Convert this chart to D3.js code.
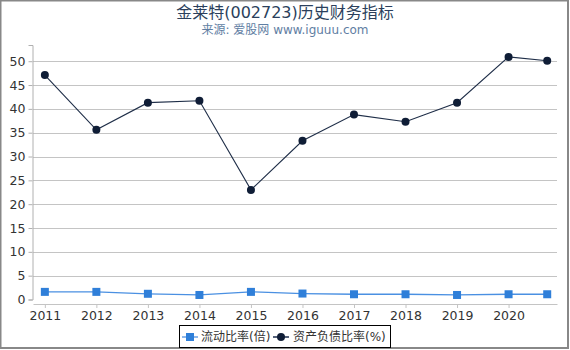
<!DOCTYPE html>
<html>
<head>
<meta charset="utf-8">
<script src="https://cdn.jsdelivr.net/npm/d3@7"></script>
<style>
  body { margin: 0; background: #fff; }
  svg text { font-family: "DejaVu Sans", "Noto Sans CJK SC", sans-serif; }
</style>
</head>
<body>
<div id="chart"></div>
<script>
// data
var years = [2011, 2012, 2013, 2014, 2015, 2016, 2017, 2018, 2019, 2020, 2020.75];
var tickYears = [2011, 2012, 2013, 2014, 2015, 2016, 2017, 2018, 2019, 2020];
var currentRatio = [1.6, 1.6, 1.2, 0.95, 1.6, 1.25, 1.1, 1.1, 0.95, 1.1, 1.1];
var debtRatio = [47.1, 35.6, 41.3, 41.7, 23.0, 33.3, 38.8, 37.3, 41.3, 50.9, 50.1];
var yTicks = [0, 5, 10, 15, 20, 25, 30, 35, 40, 45, 50];

const width = 570, height = 350;
const svg = d3.select('#chart').append('svg')
    .attr('width', width)
    .attr('height', height);

// outer frame
svg.append('rect')
    .attr('x', 0.5).attr('y', 0.5)
    .attr('width', 567.5).attr('height', 347.5)
    .attr('fill', 'none')
    .attr('stroke', '#888')
    .attr('stroke-width', 2);

// titles
svg.append('text')
    .attr('x', 285).attr('y', 18)
    .attr('text-anchor', 'middle')
    .attr('font-size', 16)
    .attr('fill', '#2b3f5c')
    .text('金莱特(002723)历史财务指标');
svg.append('text')
    .attr('x', 285).attr('y', 33.5)
    .attr('text-anchor', 'middle')
    .attr('font-size', 12)
    .attr('fill', '#5f7ea3')
    .text('来源: 爱股网 www.iguuu.com');

const x = d3.scaleLinear().domain([2010.77, 2020.94]).range([33, 557]);
const y = d3.scaleLinear().domain([0, 53.4]).range([299.5, 45]);

// gridlines
svg.append('g')
    .selectAll('line')
    .data(yTicks.filter(d => d > 0))
    .enter()
    .append('line')
    .attr('x1', 33).attr('x2', 557)
    .attr('y1', d => Math.round(y(d)) + 0.5)
    .attr('y2', d => Math.round(y(d)) + 0.5)
    .attr('stroke', '#c4c4c4');

// y axis
const yAxis = svg.append('g')
    .attr('transform', 'translate(32.5,0)')
    .call(d3.axisLeft(y).tickValues(yTicks).tickSize(4).tickPadding(3));
yAxis.select('.domain').attr('stroke', '#b0b0b0');
yAxis.selectAll('.tick line').attr('stroke', '#b0b0b0');
yAxis.selectAll('.tick text')
    .attr('font-size', 12.5)
    .attr('fill', '#333')
    .style('font-family', '"DejaVu Sans", sans-serif');

// x axis
const xAxis = svg.append('g')
    .attr('transform', 'translate(0,304)')
    .call(d3.axisBottom(x).tickValues(tickYears).tickFormat(d3.format('d')).tickSize(4).tickSizeOuter(0).tickPadding(3));
xAxis.select('.domain').attr('stroke', '#c4c4c4');
xAxis.selectAll('.tick line').attr('stroke', '#c4c4c4');
xAxis.selectAll('.tick text')
    .attr('font-size', 12.5)
    .attr('fill', '#333')
    .style('font-family', '"DejaVu Sans", sans-serif');

// series
const debtColor = '#1f2e48', debtMarker = '#0f1d36';
const curColor = '#4a90e2', curMarker = '#2f7fd9';

const line = d3.line().x(d => x(d[0])).y(d => y(d[1]));
const debtPts = years.map((yr, i) => [yr, debtRatio[i]]);
const curPts = years.map((yr, i) => [yr, currentRatio[i]]);

svg.append('path')
    .datum(curPts)
    .attr('d', line)
    .attr('fill', 'none')
    .attr('stroke', curColor)
    .attr('stroke-width', 1.3);
svg.append('g')
    .selectAll('rect')
    .data(curPts)
    .enter()
    .append('rect')
    .attr('x', d => x(d[0]) - 4)
    .attr('y', d => y(d[1]) - 4)
    .attr('width', 8).attr('height', 8)
    .attr('fill', curMarker);

svg.append('path')
    .datum(debtPts)
    .attr('d', line)
    .attr('fill', 'none')
    .attr('stroke', debtColor)
    .attr('stroke-width', 1.1);
svg.append('g')
    .selectAll('circle')
    .data(debtPts)
    .enter()
    .append('circle')
    .attr('cx', d => x(d[0]))
    .attr('cy', d => y(d[1]))
    .attr('r', 4)
    .attr('fill', debtMarker);

// legend
const legend = svg.append('g');
legend.append('rect')
    .attr('x', 179.5).attr('y', 325.5)
    .attr('width', 211).attr('height', 22)
    .attr('fill', '#fff')
    .attr('stroke', '#000')
    .attr('stroke-width', 1);
legend.append('line')
    .attr('x1', 182).attr('x2', 198).attr('y1', 337).attr('y2', 337)
    .attr('stroke', '#8fb8ea').attr('stroke-width', 2);
legend.append('rect')
    .attr('x', 186).attr('y', 333).attr('width', 8).attr('height', 8)
    .attr('fill', curMarker);
legend.append('text')
    .attr('x', 201).attr('y', 341)
    .attr('font-size', 12).attr('fill', '#333')
    .text('流动比率(倍)');
legend.append('line')
    .attr('x1', 273).attr('x2', 289).attr('y1', 337).attr('y2', 337)
    .attr('stroke', '#55627a').attr('stroke-width', 2);
legend.append('circle')
    .attr('cx', 281).attr('cy', 337).attr('r', 4)
    .attr('fill', debtMarker);
legend.append('text')
    .attr('x', 293).attr('y', 341)
    .attr('font-size', 12).attr('fill', '#333')
    .text('资产负债比率(%)');
</script>
</body>
</html>
